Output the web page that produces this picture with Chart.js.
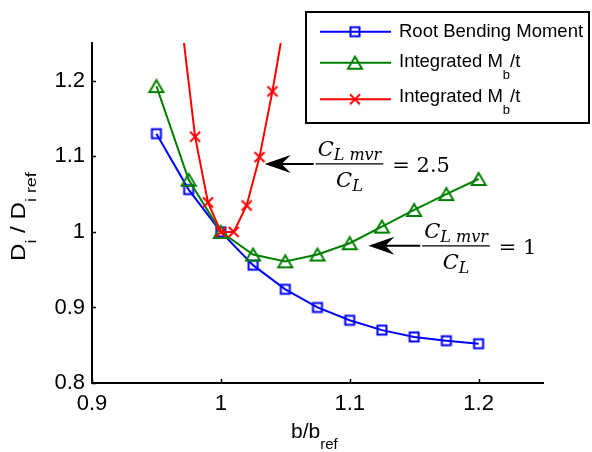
<!DOCTYPE html>
<html>
<head>
<meta charset="utf-8">
<script src="https://cdn.jsdelivr.net/npm/chart.js@4.4.1/dist/chart.umd.min.js"></script>
<style>
  html, body { margin: 0; padding: 0; background: #fff; }
  #wrap { width: 592px; height: 452px; }
</style>
</head>
<body>
<div id="wrap"><canvas id="c" width="592" height="452"></canvas></div>
<script>
// span ratio b/b_ref
const bRatio = [0.95, 0.975, 1, 1.025, 1.05, 1.075, 1.1, 1.125, 1.15, 1.175, 1.2];
const rootBending = [1.130, 1.056, 1.0, 0.956, 0.924, 0.900, 0.883, 0.870, 0.861, 0.856, 0.852];
const integratedLow = [1.193, 1.069, 1.0, 0.970, 0.961, 0.970, 0.985, 1.007, 1.029, 1.050, 1.070];
const bRatioFine = [0.97, 0.98, 0.99, 1, 1.01, 1.02, 1.03, 1.04, 1.05];
const integratedHigh = [1.27, 1.126, 1.039, 1.0, 1.0, 1.035, 1.099, 1.186, 1.285];

const seriesNames = ['Root Bending Moment', 'Integrated M_b/t', 'Integrated M_b/t'];
const seriesColors = ['#0000ff', '#008000', '#ff0000'];

const xTicks = [0.9, 1, 1.1, 1.2];
const xTickLabels = ['0.9', '1', '1.1', '1.2'];
const yTicks = [0.8, 0.9, 1, 1.1, 1.2];
const yTickLabels = ['0.8', '0.9', '1', '1.1', '1.2'];

const xTitle = 'b/b_{ref}';
const yTitle = 'D_i / D_{i ref}';

const SANS = '"Liberation Sans", Arial, sans-serif';
const SERIF = '"DejaVu Serif", serif';

// markers as small canvases (MATLAB style, centred on the point)
function makeMarker(w, h, draw) {
  const c = document.createElement('canvas');
  c.width = w; c.height = h;
  const g = c.getContext('2d');
  g.lineWidth = 2;
  draw(g);
  return c;
}
const squareMark = makeMarker(14, 14, g => {
  g.strokeStyle = seriesColors[0];
  g.strokeRect(2.5, 2.5, 9, 9);
});
const triMark = makeMarker(18, 16, g => {
  g.strokeStyle = seriesColors[1];
  g.beginPath();
  g.moveTo(9, 2); g.lineTo(2, 14); g.lineTo(16, 14); g.closePath();
  g.stroke();
});
const crossMark = makeMarker(14, 14, g => {
  g.strokeStyle = seriesColors[2];
  g.beginPath();
  g.moveTo(2, 2); g.lineTo(12, 12);
  g.moveTo(12, 2); g.lineTo(2, 12);
  g.stroke();
});
const markers = [squareMark, triMark, crossMark];

// tiny "_x" / "_{xy}" subscript parser
function parseRich(s) {
  const out = [];
  let buf = '', i = 0;
  while (i < s.length) {
    if (s[i] === '_') {
      if (buf) { out.push({ t: buf, sub: false }); buf = ''; }
      if (s[i + 1] === '{') {
        const j = s.indexOf('}', i);
        out.push({ t: s.slice(i + 2, j), sub: true });
        i = j + 1;
      } else {
        out.push({ t: s[i + 1], sub: true });
        i += 2;
      }
    } else {
      buf += s[i]; i++;
    }
  }
  if (buf) out.push({ t: buf, sub: false });
  return out;
}
function setFont(ctx, o, sub) {
  ctx.font = (o.style || '') + ' ' + (sub ? o.subSize : o.size) + 'px ' + o.family;
}
function measureRich(ctx, s, o) {
  let w = 0;
  for (const p of parseRich(s)) { setFont(ctx, o, p.sub); w += ctx.measureText(p.t).width; }
  return w;
}
function drawRich(ctx, s, x, y, o) {
  let cx = x;
  ctx.textBaseline = 'alphabetic';
  ctx.textAlign = 'left';
  for (const p of parseRich(s)) {
    setFont(ctx, o, p.sub);
    ctx.fillText(p.t, cx, y + (p.sub ? o.drop : 0));
    cx += ctx.measureText(p.t).width;
  }
  return cx - x;
}

// arrows + fraction labels, anchored in data coordinates
const notes = [
  { tip: [1.034, 1.090], tail: 1.072, num: 'C_{L mvr}', den: 'C_L', rhs: '= 2.5' },
  { tip: [1.1145, 0.9815], tail: 1.1547, num: 'C_{L mvr}', den: 'C_L', rhs: '= 1' }
];

function drawArrow(ctx, tx, ty, tailX) {
  ctx.strokeStyle = '#000';
  ctx.fillStyle = '#000';
  ctx.lineWidth = 2;
  ctx.beginPath();
  ctx.moveTo(tx + 16, ty);
  ctx.lineTo(tailX, ty);
  ctx.stroke();
  ctx.beginPath();
  ctx.moveTo(tx, ty);
  ctx.lineTo(tx + 26, ty - 9);
  ctx.lineTo(tx + 17, ty);
  ctx.lineTo(tx + 26, ty + 9);
  ctx.closePath();
  ctx.fill();
}

function drawFrac(ctx, left, yBar, num, den, rhs) {
  const f = { family: SERIF, style: 'italic', size: 21, subSize: 16, drop: 4 };
  const wn = measureRich(ctx, num, f);
  const wd = measureRich(ctx, den, f);
  const w = Math.max(wn, wd) + 4;
  ctx.fillStyle = '#000';
  drawRich(ctx, num, left + (w - wn) / 2, yBar - 8, f);
  drawRich(ctx, den, left + (w - wd) / 2, yBar + 23, f);
  ctx.lineWidth = 1.2;
  ctx.strokeStyle = '#000';
  ctx.beginPath();
  ctx.moveTo(left, yBar);
  ctx.lineTo(left + w, yBar);
  ctx.stroke();
  ctx.font = '21px ' + SERIF;
  ctx.fillText(rhs, left + w + 9, yBar + 8);
}

const decorations = {
  id: 'decorations',
  afterDraw(chart) {
    const { ctx, scales: { x, y }, chartArea } = chart;
    ctx.save();

    // inward tick marks
    ctx.strokeStyle = '#000';
    ctx.lineWidth = 1.5;
    ctx.beginPath();
    for (const v of xTicks) {
      const px = Math.round(x.getPixelForValue(v)) + 0.5;
      ctx.moveTo(px, chartArea.bottom);
      ctx.lineTo(px, chartArea.bottom - 4);
    }
    for (const v of yTicks) {
      const py = Math.round(y.getPixelForValue(v)) + 0.5;
      ctx.moveTo(chartArea.left, py);
      ctx.lineTo(chartArea.left + 4, py);
    }
    ctx.stroke();

    // axis titles
    ctx.fillStyle = '#000';
    drawRich(ctx, xTitle, 291, 437.5, { family: SANS, size: 21, subSize: 15, drop: 11.5 });
    ctx.save();
    ctx.translate(25, 261);
    ctx.rotate(-Math.PI / 2);
    ctx.scale(1.15, 1);
    drawRich(ctx, yTitle, 0, 0, { family: SANS, size: 21, subSize: 15.5, drop: 11 });
    ctx.restore();

    // legend
    ctx.fillStyle = '#fff';
    ctx.fillRect(306, 12, 283, 111);
    ctx.strokeStyle = '#000';
    ctx.lineWidth = 2;
    ctx.strokeRect(306, 12, 283, 111);
    const lineY = [31.7, 62.7, 99.3];
    const textY = [37.3, 66.7, 102.3];
    seriesNames.forEach((name, i) => {
      ctx.strokeStyle = seriesColors[i];
      ctx.lineWidth = 2;
      ctx.beginPath();
      ctx.moveTo(320, lineY[i]);
      ctx.lineTo(391, lineY[i]);
      ctx.stroke();
      const m = markers[i];
      ctx.drawImage(m, 355 - m.width / 2, lineY[i] - m.height / 2);
      ctx.fillStyle = '#000';
      drawRich(ctx, name, 399, textY[i], { family: SANS, size: 18.5, subSize: 13, drop: 12 });
    });

    // annotations
    for (const n of notes) {
      const tx = x.getPixelForValue(n.tip[0]);
      const ty = y.getPixelForValue(n.tip[1]);
      const tail = x.getPixelForValue(n.tail);
      drawArrow(ctx, tx, ty, tail);
      drawFrac(ctx, tail + 2, ty, n.num, n.den, n.rhs);
    }
    ctx.restore();
  }
};

const toXY = (xs, ys) => xs.map((v, i) => ({ x: v, y: ys[i] }));

new Chart(document.getElementById('c'), {
  type: 'line',
  data: {
    datasets: [
      { label: seriesNames[0], data: toXY(bRatio, rootBending), borderColor: seriesColors[0],
        pointStyle: squareMark, order: 3 },
      { label: seriesNames[1], data: toXY(bRatio, integratedLow), borderColor: seriesColors[1],
        pointStyle: triMark, order: 2 },
      { label: seriesNames[2], data: toXY(bRatioFine, integratedHigh), borderColor: seriesColors[2],
        pointStyle: crossMark, order: 1 }
    ]
  },
  options: {
    responsive: false,
    animation: false,
    events: [],
    elements: {
      line: { borderWidth: 2, tension: 0, fill: false },
      point: { radius: 5, hoverRadius: 5 }
    },
    layout: { padding: { top: 43, right: 49, left: 0, bottom: 0 } },
    plugins: { legend: { display: false }, tooltip: { enabled: false } },
    scales: {
      x: {
        type: 'linear',
        min: 0.9,
        max: 1.25,
        afterFit(s) { s.height = 69; },
        afterBuildTicks(s) { s.ticks = xTicks.map(v => ({ value: v })); },
        ticks: {
          callback: (v, i) => xTickLabels[i],
          color: '#000',
          font: { family: SANS, size: 22 },
          padding: 8,
          maxRotation: 0,
          autoSkip: false
        },
        grid: { drawOnChartArea: false, drawTicks: false },
        border: { color: '#000', width: 2 }
      },
      y: {
        type: 'linear',
        min: 0.8,
        max: 1.25,
        afterFit(s) { s.width = 92; },
        afterBuildTicks(s) { s.ticks = yTicks.map(v => ({ value: v })); },
        ticks: {
          callback: (v, i) => yTickLabels[i],
          color: '#000',
          font: { family: SANS, size: 22 },
          padding: 7,
          autoSkip: false
        },
        grid: { drawOnChartArea: false, drawTicks: false },
        border: { color: '#000', width: 2 }
      }
    }
  },
  plugins: [decorations]
});
</script>
</body>
</html>
